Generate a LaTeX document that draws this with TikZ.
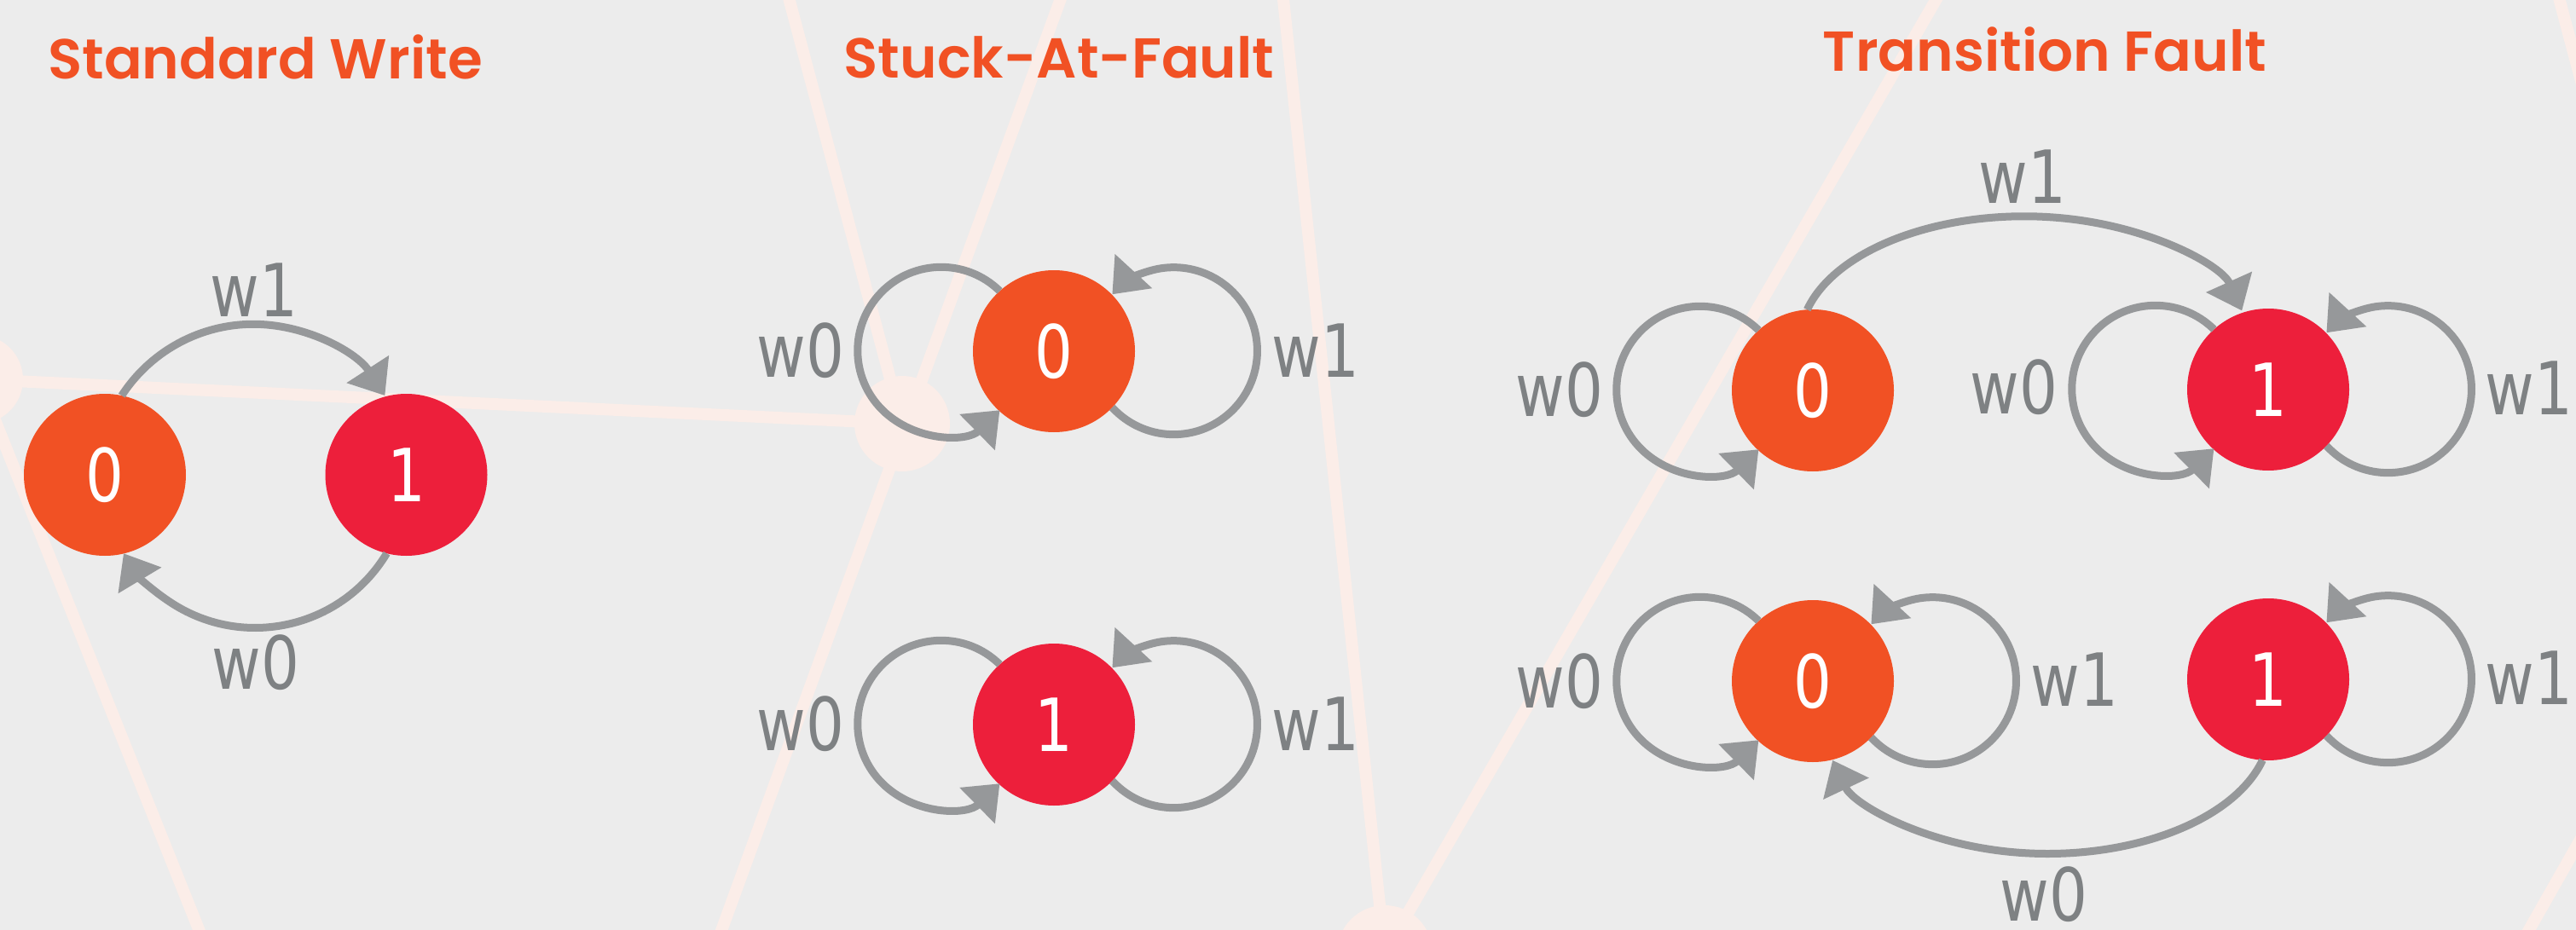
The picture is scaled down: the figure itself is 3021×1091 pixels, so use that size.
\documentclass[tikz,border=0pt]{standalone}
\usepackage{fontspec}
\usetikzlibrary{arrows.meta}
\newfontfamily\titlefont{Poppins}[UprightFont={* SemiBold}, BoldFont={* Bold}]
\newfontfamily\hand{DejaVu Sans}[FakeStretch=0.82]
\definecolor{bgc}{HTML}{ECECEC}
\definecolor{netc}{HTML}{FBEDE8}
\definecolor{zeroc}{HTML}{F15124}
\definecolor{onec}{HTML}{ED1F3B}
\definecolor{edgec}{HTML}{96989A}
\definecolor{labc}{HTML}{7E8183}
\tikzset{
  state/.style={circle, minimum size=190pt, inner sep=0pt, outer sep=0pt,
    text=white, font=\hand\fontsize{86}{90}\selectfont},
  szero/.style={state, fill=zeroc},
  sone/.style={state, fill=onec},
  lab/.style={text=labc, inner sep=0pt, font=\hand\fontsize{86}{90}\selectfont},
  ttl/.style={text=zeroc, inner sep=0pt, font=\titlefont\fontsize{66}{70}\selectfont},
  trans/.style={draw=edgec, line width=9pt, -{Triangle[length=37pt,width=57pt]}},
  net/.style={draw=netc, line width=14pt},
  netdot/.style={circle, fill=netc, inner sep=0pt, outer sep=0pt},
}
\begin{document}
\begin{tikzpicture}[x=1pt,y=1pt]
\useasboundingbox (0,0) rectangle (3021,-1091);

% background network
\begin{scope}
\clip (0,0) rectangle (3021,-1091);
\fill[bgc] (0,0) rectangle (3021,-1091);
\node[netdot, minimum size=104pt] (na) at (-25,-445) {};
\node[netdot, minimum size=112pt] (nb) at (1058,-497) {};
\node[netdot, minimum size=112pt] (nc) at (1624,-1118) {};
\node[netdot, minimum size=112pt] (nd) at (3188,-700) {};
\coordinate (ea) at (249,-1130);
\coordinate (eb1) at (923,10);
\coordinate (eb2) at (1247,10);
\coordinate (eb3) at (843,-1100);
\coordinate (ec1) at (1504,10);
\coordinate (ec2) at (2276,10);
\coordinate (ed1) at (2999,10);
\coordinate (ed2) at (2955,-1110);
\draw[net] (na.center) -- (nb.center);
\draw[net] (na.center) -- (ea);
\draw[net] (nb.center) -- (eb1);
\draw[net] (eb2) -- (eb3);
\draw[net] (nc.center) -- (ec1);
\draw[net] (nc.center) -- (ec2);
\draw[net] (nd.center) -- (ed1);
\draw[net] (nd.center) -- (ed2);
\end{scope}

% titles
\node[ttl, anchor=base west] (t1) at (56,-93) {Standard Write};
\node[ttl, anchor=base] (t2) at (1242,-92) {Stuck-At-Fault};
\node[ttl, anchor=base] (t3) at (2398,-84) {Transition Fault};

% standard write
\node[szero] (sw0) at (123,-557) {0};
\node[sone] (sw1) at (476.5,-557) {1};
\draw[trans] (sw0.78) arc[start angle=147, end angle=33, radius=184];
\draw[trans] (sw1.-104) arc[start angle=-31, end angle=-149, radius=180];
\node[lab] (swl1) at (298,-340) {w1};
\node[lab] (swl0) at (300,-777) {w0};

% stuck-at fault
\node[szero] (sa0) at (1236,-412) {0};
\node[sone] (sa1) at (1236,-850) {1};
\foreach \n in {sa0,sa1}{
  \draw[trans] (\n.132.6) arc[start angle=45.5, delta angle=269, radius=98];
  \draw[trans] (\n.-44.4) arc[start angle=222.6, delta angle=274.8, radius=98];
}
\node[lab] (sal1) at (939,-411) {w0};
\node[lab] (sal2) at (1543,-411) {w1};
\node[lab] (sal3) at (939,-849) {w0};
\node[lab] (sal4) at (1543,-849) {w1};

% transition fault
\node[szero] (ta0) at (2126,-458) {0};
\node[sone] (ta1) at (2660,-457) {1};
\node[szero] (tb0) at (2126,-799) {0};
\node[sone] (tb1) at (2660,-797) {1};
\draw[trans] (ta0.94) arc[start angle=165.5, end angle=14, x radius=263, y radius=146];
\draw[trans] (tb1.-94.5) arc[start angle=-15, end angle=-165, x radius=261, y radius=148];
\foreach \n in {ta0,ta1,tb0}{
  \draw[trans] (\n.132.6) arc[start angle=45.5, delta angle=269, radius=98];
}
\foreach \n in {ta1,tb0,tb1}{
  \draw[trans] (\n.-44.4) arc[start angle=222.6, delta angle=274.8, radius=98];
}
\node[lab] (tl1) at (1829,-457) {w0};
\node[lab] (tl2) at (2362,-454) {w0};
\node[lab] (tl3) at (2966,-455) {w1};
\node[lab] (tl4) at (1829,-799) {w0};
\node[lab] (tl5) at (2433,-797) {w1};
\node[lab] (tl6) at (2966,-795) {w1};
\node[lab] (tl7) at (2372,-207) {w1};
\node[lab] (tl8) at (2397,-1049) {w0};
\end{tikzpicture}
\end{document}
